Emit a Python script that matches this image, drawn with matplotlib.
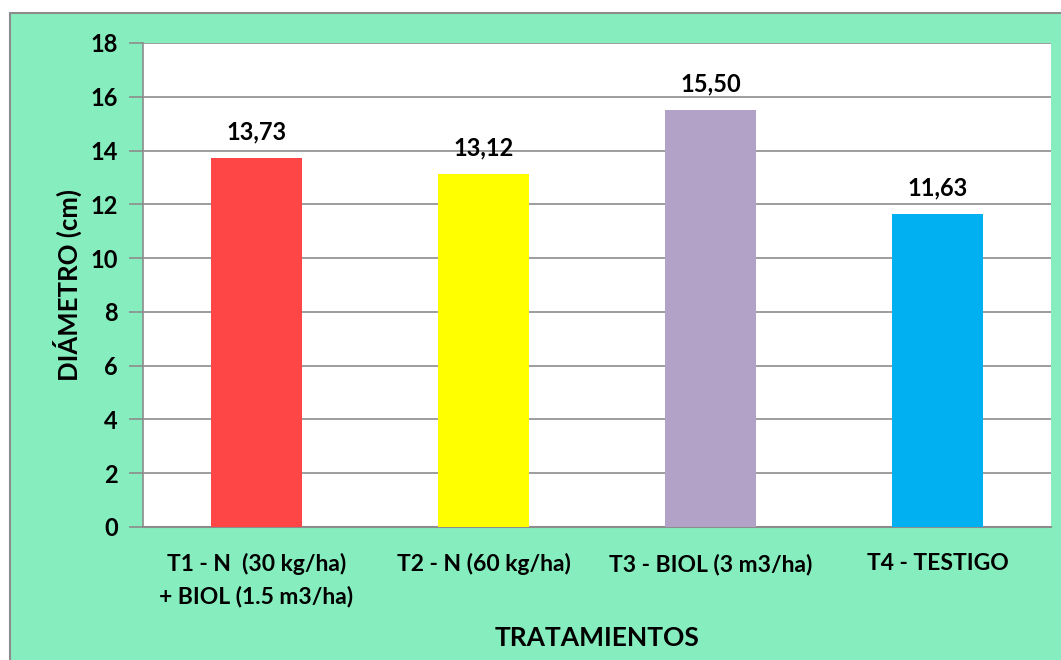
import matplotlib.pyplot as plt
from matplotlib.patches import Rectangle

# Data
tratamientos = ["T1 - N  (30 kg/ha)\n+ BIOL (1.5 m3/ha)", "T2 - N (60 kg/ha)",
                "T3 - BIOL (3 m3/ha)", "T4 - TESTIGO"]
diametro = [13.73, 13.12, 15.50, 11.63]
etiquetas = ["13,73", "13,12", "15,50", "11,63"]
colores = ["#FF4646", "#FFFF00", "#B3A2C7", "#00B0F0"]

plt.rcParams['font.family'] = ['Lato', 'DejaVu Sans']
plt.rcParams['font.weight'] = 'bold'

fig = plt.figure(figsize=(10.61, 6.60), dpi=100)
fig.patch.set_facecolor("white")

# green chart area with gray border
bg = Rectangle((10 / 1061, -0.1), 1.2, 1.1 - 13 / 660, transform=fig.transFigure,
               facecolor="#86EEBE", edgecolor="#8C8C8C", linewidth=1.5, zorder=-10)
fig.patches.append(bg)

ax = fig.add_axes([143 / 1061, 1 - 527 / 660, (1051 - 143) / 1061, (527 - 43) / 660])
ax.set_facecolor("white")

x = range(len(tratamientos))
ax.bar(x, diametro, width=0.4, color=colores, zorder=3)
for xi, v, lab in zip(x, diametro, etiquetas):
    ax.text(xi, v + 0.55, lab, ha="center", va="bottom", fontsize=17, fontweight="bold")

ax.set_xlim(-0.5, 3.5)
ax.set_ylim(0, 18)
ax.set_yticks(range(0, 19, 2))
ax.yaxis.grid(True, color="#8C8C8C", linewidth=1.2, zorder=0)
ax.set_xticks(list(x))
ax.set_xticklabels(tratamientos, fontsize=16.5, fontweight="bold", linespacing=1.55)
ax.tick_params(axis="y", labelsize=17, length=10, color="#8C8C8C", width=1.2, pad=8)
ax.tick_params(axis="x", length=0, pad=19)

for s in ["top", "right"]:
    ax.spines[s].set_visible(False)
ax.spines["left"].set_color("#8C8C8C")
ax.spines["bottom"].set_color("#8C8C8C")
ax.spines["left"].set_linewidth(1.2)
ax.spines["bottom"].set_linewidth(1.5)

ax.set_ylabel("DIÁMETRO (cm)", fontsize=18.5, fontweight="bold", labelpad=6)
ax.set_xlabel("TRATAMIENTOS", fontsize=19, fontweight="bold", labelpad=14)

fig.savefig("out.png", dpi=100)
